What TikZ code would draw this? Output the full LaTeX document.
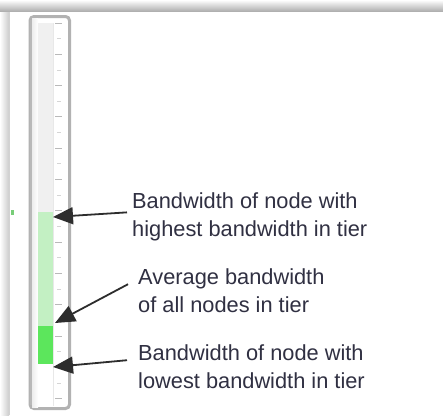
\documentclass[tikz,border=0pt]{standalone}
\usepackage{fontspec}
\setmainfont{Liberation Sans}
\usetikzlibrary{arrows.meta}
\definecolor{txt}{RGB}{48,48,66}
\definecolor{arr}{RGB}{45,45,45}
\definecolor{hig}{RGB}{195,240,195}
\definecolor{low}{RGB}{92,230,92}
\definecolor{framec}{RGB}{178,178,178}
\definecolor{barbg}{RGB}{240,240,240}
\definecolor{tickc}{RGB}{185,185,185}
\definecolor{dotc}{RGB}{120,205,120}
\begin{document}
\begin{tikzpicture}[x=1pt,y=-1pt,
  lbl/.style={font=\fontsize{21.8}{28}\selectfont, text=txt, align=left, inner sep=0pt, anchor=base west},
  pointer/.style={draw=arr, line width=1.8pt, -{Triangle[length=20pt,width=17pt]}},
  longtick/.style={draw=tickc, line width=1pt},
  shorttick/.style={draw=tickc!60, line width=1pt}]
\useasboundingbox (0,0) rectangle (443,415);
\fill[white] (0,0) rectangle (443,415);
% panel shadows
\shade[left color=white, right color=gray!40] (0,0) rectangle (9,415);
\draw[gray!35, line width=1pt] (9.5,11) -- (9.5,415);
\shade[top color=white, bottom color=gray!62] (0,0) rectangle (443,11);
% marker dot
\fill[dotc] (11,210) rectangle (13.5,214.5);
% gauge frame
\draw[framec, line width=3pt, rounded corners=4pt, fill=white] (30,16.5) rectangle (69.5,408.5);
\draw[gray!55, line width=2pt] (31,20) -- (31,405);
\shade[left color=gray!14, right color=white] (32,18) rectangle (38,407);
% bar
\fill[barbg] (38,23) rectangle (53,212);
\fill[hig] (38,212) rectangle (53,326);
\fill[low] (38,326) rectangle (53,364);
\draw[gray!18, line width=1pt] (53.5,23) -- (53.5,406);
% ticks
\foreach \k in {0,...,12} \draw[longtick] (55,23+31.33*\k) -- (62,23+31.33*\k);
\foreach \k in {0,...,11} \draw[shorttick] (57,38.67+31.33*\k) -- (61,38.67+31.33*\k);
% pointer targets
\coordinate (hiPt) at (53,217);
\coordinate (avgPt) at (55,323);
\coordinate (loPt) at (53,367);
% labels
\node[lbl] (t1) at (132,236) {Bandwidth of node with\\highest bandwidth in tier};
\node[lbl] (t2) at (138,312) {Average bandwidth\\of all nodes in tier};
\node[lbl] (t3) at (138,388) {Bandwidth of node with\\lowest bandwidth in tier};
% pointers
\draw[pointer] ([xshift=-5pt,yshift=4pt]t1.west) -- (hiPt);
\draw[pointer] ([xshift=-10pt,yshift=6pt]t2.west) -- (avgPt);
\draw[pointer] ([xshift=-11pt,yshift=6pt]t3.west) -- (loPt);
\end{tikzpicture}
\end{document}
